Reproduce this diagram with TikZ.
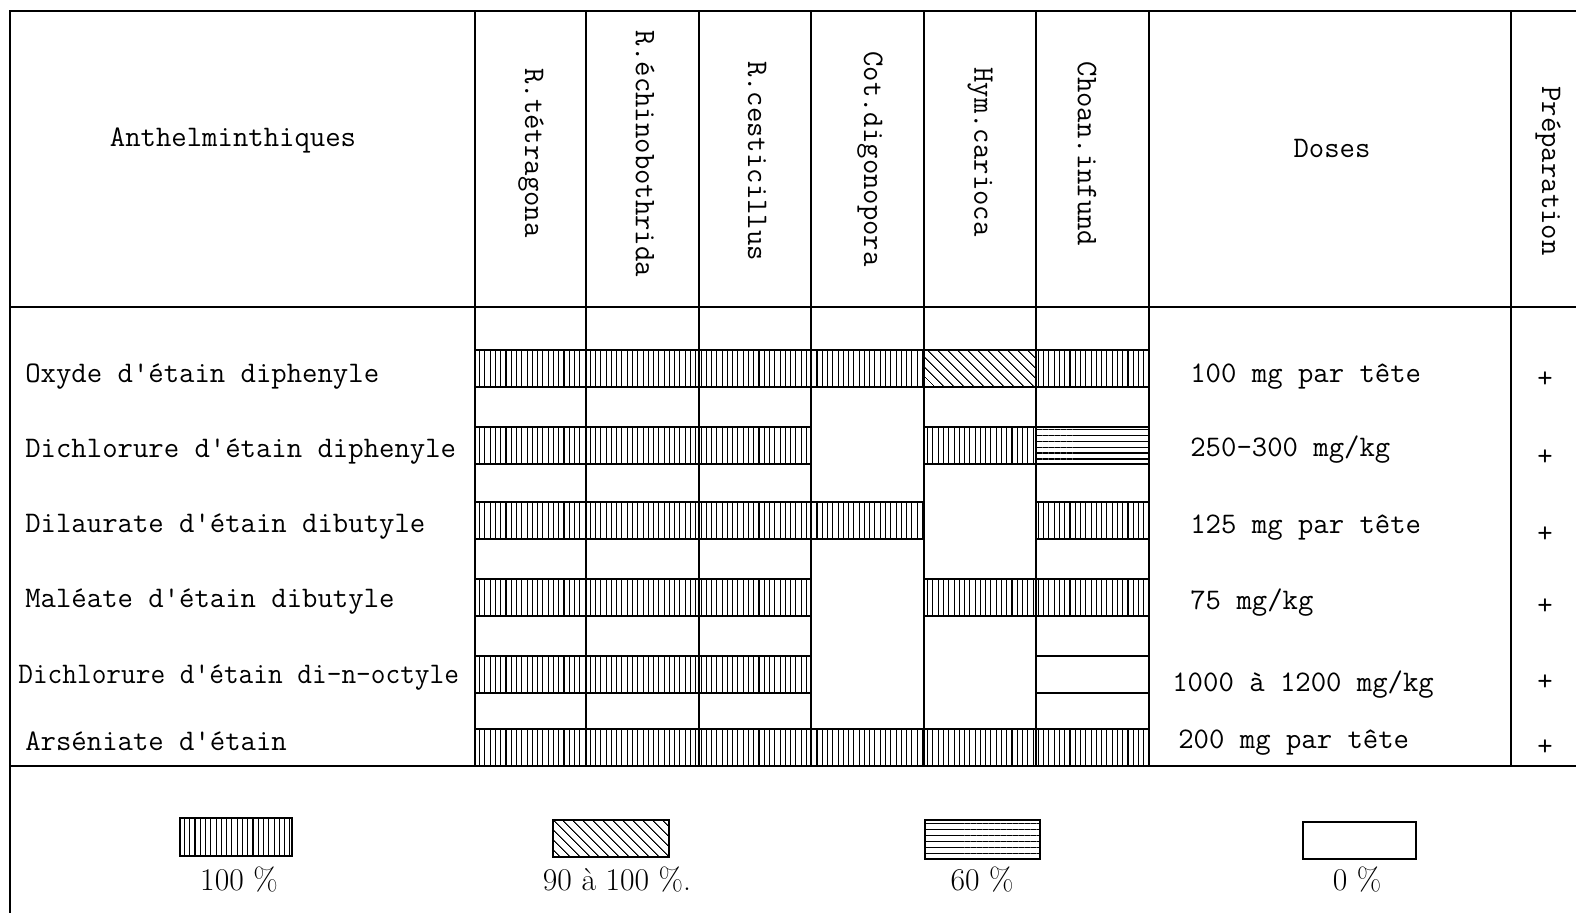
\documentclass[tikz,border=0pt]{standalone}
\usetikzlibrary{patterns.meta}
\tikzset{
 rule/.style={line width=1pt},
 cellfull/.style={draw, line width=0.9pt, pattern={Lines[angle=90,distance=3pt,line width=0.6pt]}},
 cellhigh/.style={draw, line width=0.9pt, pattern={Lines[angle=-45,distance=4pt,line width=0.6pt]}},
 cellmid/.style={draw, line width=0.9pt, pattern={Lines[angle=0,distance=3.4pt,line width=0.6pt]}},
 cellzero/.style={draw, line width=0.9pt},
 cellskip/.style={},
 typed/.style={font=\fontsize{17}{20}\selectfont\ttfamily, inner sep=0pt},
 keytext/.style={font=\fontsize{18}{21}\selectfont, inner sep=0pt},
}

\begin{document}
\begin{tikzpicture}[x=0.02cm, y=-0.02cm]
 \useasboundingbox (0,0) rectangle (1576,913);
 % frame and rules
 \draw[rule] (10,913) -- (10,11) -- (1576,11);
 \draw[rule] (10,307) -- (1576,307);
 \draw[rule] (10,766) -- (1576,766);
 \foreach \x in {475,586,699,811,924,1036,1149,1511}
  \draw[rule] (\x,11) -- (\x,766);

 % header
 \node[typed] (anthel) at (233,140) {Anthelminthiques};
 \foreach \x/\y/\name/\txt in {531/153/tetra/R.tétragona, 645/154/echino/R.échinobothrida,
   757/161/cesti/R.cesticillus, 870/159/cotdig/Cot.digonopora,
   980/152/hymcar/Hym.carioca, 1087/154/choan/Choan.infund}
  \node[typed, rotate=-90] (\name) at (\x,\y) {\txt};
 \node[typed] (doses) at (1332,148) {Doses};
 \node[typed, rotate=-90] (prep) at (1548,171) {Préparation};

 % results per compound
 \foreach \y/\codes in {
   350/{cellfull,cellfull,cellfull,cellfull,cellhigh,cellfull},
   427/{cellfull,cellfull,cellfull,cellskip,cellfull,cellmid},
   502/{cellfull,cellfull,cellfull,cellfull,cellskip,cellfull},
   579/{cellfull,cellfull,cellfull,cellskip,cellfull,cellfull},
   656/{cellfull,cellfull,cellfull,cellskip,cellskip,cellzero},
   729/{cellfull,cellfull,cellfull,cellfull,cellfull,cellfull}}
  \foreach \c [count=\i] in \codes {
   \pgfmathsetmacro\xa{{475,586,699,811,924,1036,1149}[\i-1]}
   \pgfmathsetmacro\xb{{475,586,699,811,924,1036,1149}[\i]}
   \path[\c] (\xa,\y) rectangle (\xb,\y+37);
  }

 % compounds
 \node[typed, anchor=west] (oxyde) at (25,377) {Oxyde d'étain diphenyle};
 \node[typed, anchor=west] (dichphen) at (25,452) {Dichlorure d'étain diphenyle};
 \node[typed, anchor=west] (dilaur) at (25,527) {Dilaurate d'étain dibutyle};
 \node[typed, anchor=west] (maleate) at (25,602) {Maléate d'étain dibutyle};
 \node[typed, anchor=west] (dichoct) at (18,678) {\scalebox{0.955}[1]{Dichlorure d'étain di-n-octyle}};
 \node[typed, anchor=west] (arsen) at (25,741) {Arséniate d'étain};

 % doses
 \node[typed, anchor=west] (dose1) at (1190,377) {100 mg par tête};
 \node[typed, anchor=west] (dose2) at (1190,450) {250-300 mg/kg};
 \node[typed, anchor=west] (dose3) at (1190,528) {125 mg par tête};
 \node[typed, anchor=west] (dose4) at (1190,603) {75 mg/kg};
 \node[typed, anchor=west] (dose5) at (1172,685) {1000 à 1200 mg/kg};
 \node[typed, anchor=west] (dose6) at (1178,743) {200 mg par tête};
 \foreach \y [count=\i] in {380,458,535,607,683,748}
  \node[typed] (prep\i) at (1545,\y) {+};

 % legend
 \path[cellfull] (180,818) rectangle (292,856);
 \path[cellhigh] (553,820) rectangle (669,857);
 \path[cellmid] (925,820) rectangle (1040,859);
 \path[cellzero] (1303,822) rectangle (1416,859);
 \node[keytext] (key1) at (239,880) {100 \%};
 \node[keytext] (key2) at (617,880) {90 à 100 \%.};
 \node[keytext] (key3) at (982,880) {60 \%};
 \node[keytext] (key4) at (1357,880) {0 \%};
\end{tikzpicture}
\end{document}
